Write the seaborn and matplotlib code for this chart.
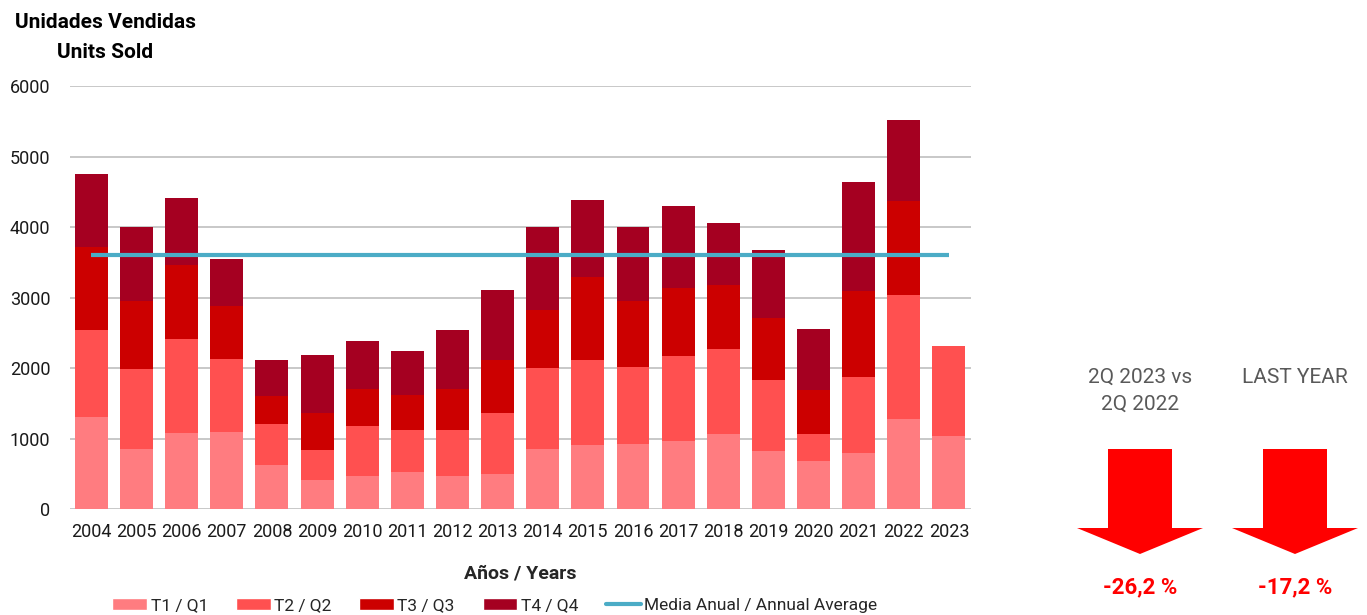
"""Stacked quarterly units sold per year, with annual average and YoY arrows."""

import matplotlib.pyplot as plt
import numpy as np
import pandas as pd
import seaborn as sns
from matplotlib.lines import Line2D
from matplotlib.patches import Patch, Polygon

sns.set_style("white")
plt.rcParams["font.family"] = ["Roboto", "DejaVu Sans"]

# Data
years = [str(y) for y in range(2004, 2024)]
q1 = [1310, 855, 1085, 1100, 620, 410, 470, 530, 475, 505,
      855, 910, 930, 965, 1060, 820, 690, 795, 1285, 1040]
q2 = [1230, 1140, 1335, 1030, 590, 430, 710, 590, 645, 860,
      1145, 1210, 1085, 1205, 1205, 1010, 380, 1080, 1755, 1270]
q3 = [1180, 960, 1040, 755, 400, 530, 530, 505, 585, 750,
      825, 1170, 940, 970, 920, 885, 620, 1220, 1335, np.nan]
q4 = [1030, 1050, 955, 660, 500, 820, 670, 620, 830, 995,
      1170, 1095, 1040, 1155, 875, 955, 860, 1550, 1140, np.nan]
annual_average = 3600

quarter_labels = ["T1 / Q1", "T2 / Q2", "T3 / Q3", "T4 / Q4"]
quarter_colors = ["#FF7C80", "#FF5050", "#CC0000", "#A50021"]
avg_label = "Media Anual / Annual Average"
avg_color = "#4BACC6"

comparisons = ["2Q 2023 vs\n2Q 2022", "LAST YEAR"]
changes = ["-26,2 %", "-17,2 %"]

df = pd.DataFrame({"year": years, "Q1": q1, "Q2": q2, "Q3": q3, "Q4": q4})
cum = df[["Q1", "Q2", "Q3", "Q4"]].cumsum(axis=1, skipna=False)
cum["year"] = df["year"]

fig = plt.figure(figsize=(13.67, 6.15), dpi=100)
ax = fig.add_axes([0.051, 0.172, 0.659, 0.688])

# draw cumulative layers from top to bottom so each lower quarter covers the one above
for col, color in zip(["Q4", "Q3", "Q2", "Q1"], quarter_colors[::-1]):
    layer = cum[["year", col]].dropna()
    sns.barplot(data=layer, x="year", y=col, order=years, color=color,
                width=0.73, saturation=1, linewidth=0, ax=ax)

ax.hlines(annual_average, 0, len(years) - 1, color=avg_color, linewidth=3, zorder=5)

ax.set_xlim(-0.48, len(years) - 0.52)
ax.set_ylim(0, 6000)
ax.set_yticks(range(0, 6001, 1000))
ax.yaxis.grid(True, color="#BFBFBF", linewidth=1.2)
ax.set_axisbelow(True)
for side in ["top", "right", "left", "bottom"]:
    ax.spines[side].set_visible(False)
ax.tick_params(axis="y", length=0, pad=14, labelsize=13, labelcolor="#1a1a1a")
ax.tick_params(axis="x", length=0, pad=10, labelsize=13, labelcolor="#1a1a1a")
ax.set_ylabel("")
ax.set_xlabel("Años / Years", fontsize=14, fontweight="bold", labelpad=17)

fig.text(0.077, 0.963, "Unidades Vendidas", ha="center", va="center",
         fontsize=15, fontweight="bold", color="black")
fig.text(0.077, 0.914, "Units Sold", ha="center", va="center",
         fontsize=15, fontweight="bold", color="black")

handles = [Patch(facecolor=c, label=l) for c, l in zip(quarter_colors, quarter_labels)]
handles.append(Line2D([], [], color=avg_color, linewidth=3, label=avg_label))
fig.legend(handles=handles, loc="center", bbox_to_anchor=(0.362, 0.016), ncol=5,
           frameon=False, fontsize=12.5, handlelength=2.0, handleheight=0.7,
           handletextpad=0.2, columnspacing=1.6)

# right-hand comparison panel
centers = [1140 / 1367, 1295 / 1367]
for cx, title, change in zip(centers, comparisons, changes):
    fig.text(cx, 1 - 368 / 615, title, ha="center", va="top",
             fontsize=15, color="#595959", linespacing=1.55)
    sw, hw = 32 / 1367, 63 / 1367
    top, neck, tip = 1 - 449 / 615, 1 - 528 / 615, 1 - 554 / 615
    arrow = Polygon([(cx - sw, top), (cx + sw, top), (cx + sw, neck), (cx + hw, neck),
                     (cx, tip), (cx - hw, neck), (cx - sw, neck)],
                    closed=True, facecolor="#FF0000", edgecolor="none",
                    transform=fig.transFigure)
    fig.patches.append(arrow)
    fig.text(cx, 1 - 587 / 615, change, ha="center", va="center",
             fontsize=16, fontweight="bold", color="#FF0000")

fig.savefig("out.png", dpi=100)
